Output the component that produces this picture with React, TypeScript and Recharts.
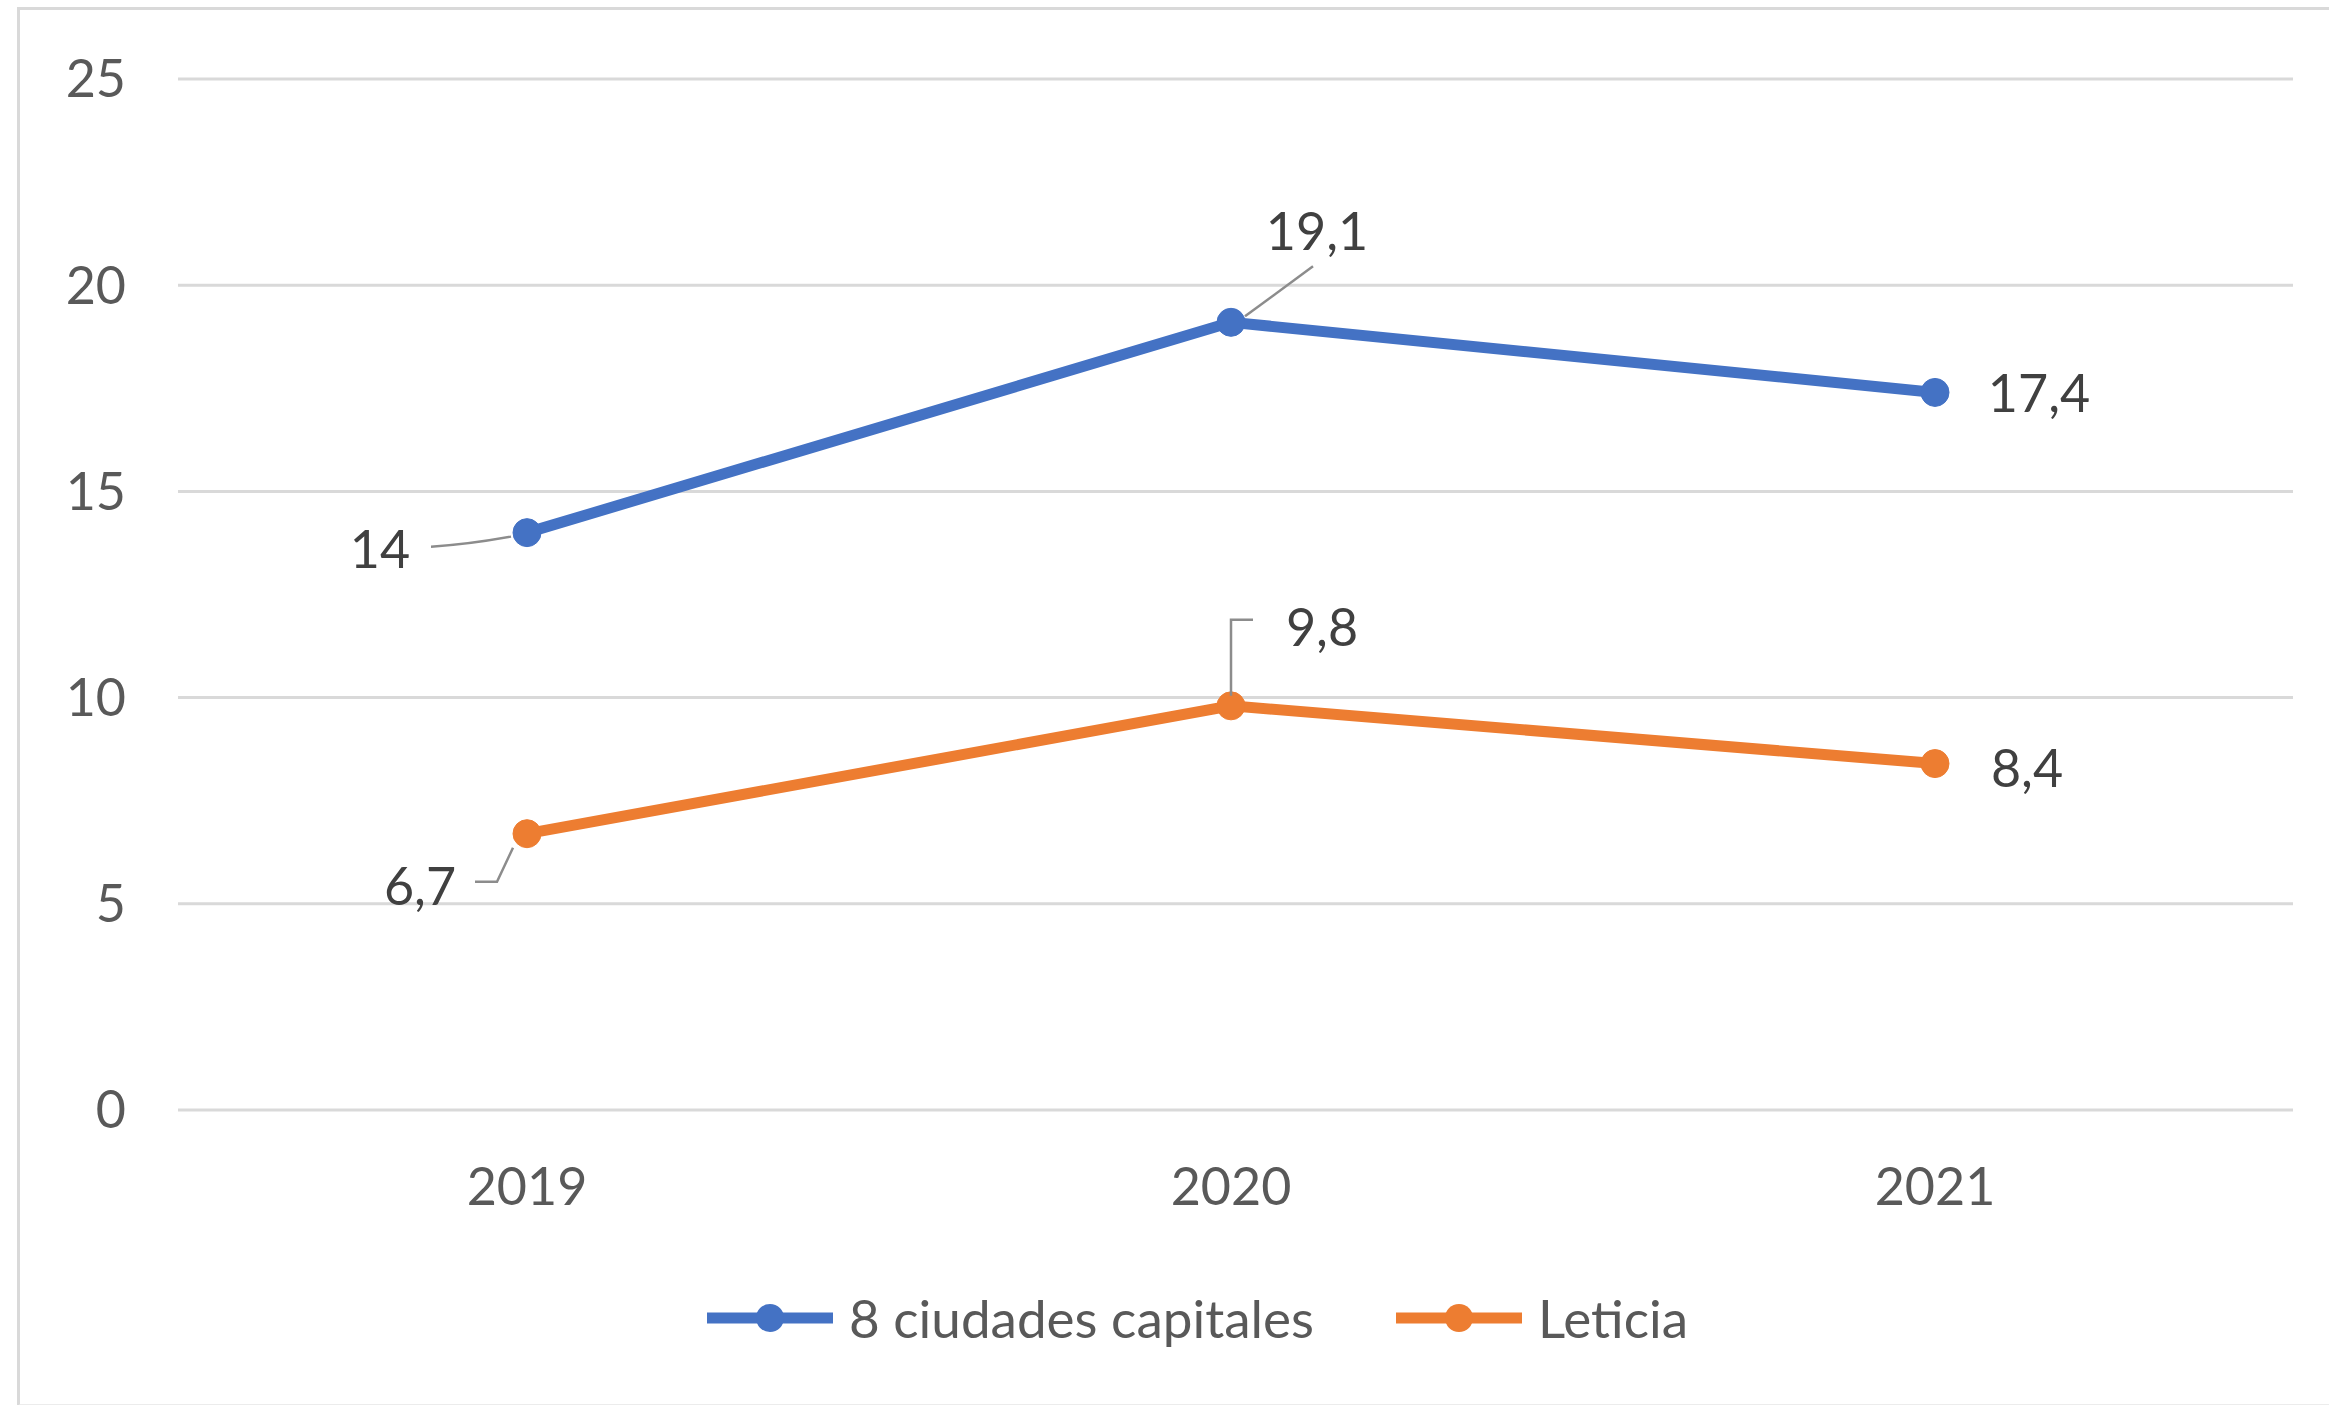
import { CartesianGrid, LabelList, Legend, Line, LineChart, XAxis, YAxis } from "recharts";

const YEARS = ["2019", "2020", "2021"];
const CAPITALES = [14, 19.1, 17.4];
const LETICIA = [6.7, 9.8, 8.4];
const Y_TICKS = [0, 5, 10, 15, 20, 25];

const BLUE = "#4472c4";
const ORANGE = "#ed7d31";
const FONT = "Lato, 'Open Sans', sans-serif";

// where each data label sits relative to its point, plus its leader line
const CAPITALES_LABELS = [
  { dx: -147, dy: 15, leader: "M -96 14 Q -60 12 -16 4" },
  { dx: 86, dy: -92, leader: "M 14 -6 L 82 -56" },
  { dx: 104, dy: 0, leader: "" },
];
const LETICIA_LABELS = [
  { dx: -107, dy: 51, leader: "M -52 48 L -30 48 L -14 14" },
  { dx: 91, dy: -80, leader: "M 0 -10 L 0 -86 L 22 -86" },
  { dx: 92, dy: 3, leader: "" },
];

const data = YEARS.map((year, i) => ({
  year,
  capitales: CAPITALES[i],
  leticia: LETICIA[i],
}));

const fmt = (v: number) => String(v).replace(".", ",");

function makeLabel(offsets: { dx: number; dy: number; leader: string }[]) {
  return (props: any) => {
    const { x, y, value, index } = props;
    const o = offsets[index];
    return (
      <g>
        {o.leader && (
          <path
            d={o.leader}
            transform={`translate(${x},${y})`}
            fill="none"
            stroke="#8c8c8c"
            strokeWidth={2.5}
          />
        )}
        <text
          x={x + o.dx}
          y={y + o.dy}
          textAnchor="middle"
          dominantBaseline="central"
          fontFamily={FONT}
          fontSize={52}
          fill="#404040"
        >
          {fmt(value)}
        </text>
      </g>
    );
  };
}

function LegendContent() {
  const items = [
    { name: "8 ciudades capitales", color: BLUE },
    { name: "Leticia", color: ORANGE },
  ];
  return (
    <div style={{ display: "flex", alignItems: "center", marginLeft: 705, fontFamily: FONT, fontSize: 53, color: "#595959" }}>
      {items.map((it) => (
        <div key={it.name} style={{ display: "flex", alignItems: "center", marginRight: 80 }}>
          <svg width={130} height={32} style={{ marginRight: 14 }}>
            <line x1={2} y1={16} x2={128} y2={16} stroke={it.color} strokeWidth={11} />
            <circle cx={65} cy={16} r={14} fill={it.color} />
          </svg>
          <span>{it.name}</span>
        </div>
      ))}
    </div>
  );
}

export default function App() {
  return (
    <div style={{ position: "absolute", left: 0, top: 0, width: 2329, height: 1405, background: "#fff" }}>
      <div
        style={{
          position: "absolute",
          left: 17,
          top: 7,
          width: 2330,
          height: 1394,
          borderLeft: "3px solid #d9d9d9",
          borderTop: "3px solid #d9d9d9",
          borderBottom: "3px solid #ececec",
        }}
      />
      <LineChart
        width={2329}
        height={1405}
        data={data}
        margin={{ top: 79, right: 36, bottom: 0, left: 0 }}
        style={{ position: "absolute", left: 0, top: 0 }}
      >
        <CartesianGrid vertical={false} stroke="#d9d9d9" strokeWidth={3} />
        <XAxis
          dataKey="year"
          axisLine={false}
          tickLine={false}
          tickSize={0}
          tickMargin={58}
          padding={{ left: 349, right: 358 }}
          tick={{ fontSize: 52, fill: "#595959", fontFamily: FONT }}
          height={295}
        />
        <YAxis
          domain={[0, 25]}
          ticks={Y_TICKS}
          axisLine={false}
          tickLine={false}
          tickSize={0}
          tickMargin={52}
          width={178}
          tick={{ fontSize: 52, fill: "#595959", fontFamily: FONT }}
        />
        <Legend
          layout="horizontal"
          verticalAlign="middle"
          align="center"
          content={<LegendContent />}
          wrapperStyle={{ left: 0, top: 1286, width: 2329 }}
        />
        <Line
          dataKey="capitales"
          name="8 ciudades capitales"
          stroke={BLUE}
          strokeWidth={11}
          dot={{ r: 14, fill: BLUE, stroke: BLUE, strokeWidth: 1 }}
          isAnimationActive={false}
        >
          <LabelList dataKey="capitales" content={makeLabel(CAPITALES_LABELS)} />
        </Line>
        <Line
          dataKey="leticia"
          name="Leticia"
          stroke={ORANGE}
          strokeWidth={11}
          dot={{ r: 14, fill: ORANGE, stroke: ORANGE, strokeWidth: 1 }}
          isAnimationActive={false}
        >
          <LabelList dataKey="leticia" content={makeLabel(LETICIA_LABELS)} />
        </Line>
      </LineChart>
    </div>
  );
}
